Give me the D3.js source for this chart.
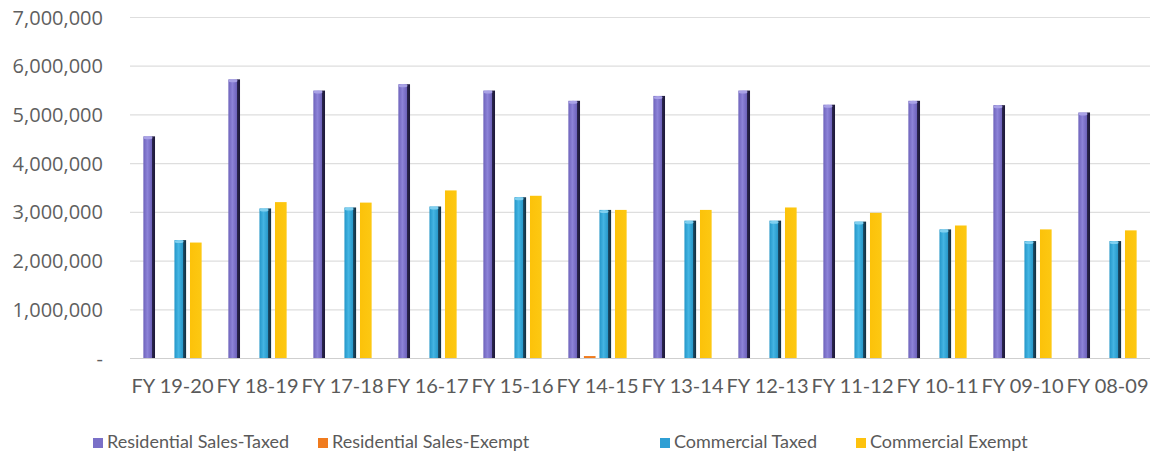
<!DOCTYPE html>
<html>
<head>
<meta charset="utf-8">
<script src="https://cdn.jsdelivr.net/npm/d3@7"></script>
<style>
  html, body { margin: 0; padding: 0; background: #fff; }
  svg { display: block; }
  .axis-y text { font-family: 'Open Sans', sans-serif; font-size: 20px; fill: #5f5f5f; }
  .axis-x text { font-family: Lato, sans-serif; font-size: 20px; fill: #5a5a5a; }
  .legend text { font-family: Lato, sans-serif; font-size: 18px; fill: #5a5a5a; }
</style>
</head>
<body>
<svg id="chart" width="1157" height="453"></svg>
<script>
const categories = ['FY 19-20', 'FY 18-19', 'FY 17-18', 'FY 16-17', 'FY 15-16', 'FY 14-15',
  'FY 13-14', 'FY 12-13', 'FY 11-12', 'FY 10-11', 'FY 09-10', 'FY 08-09']
const residentialTaxed = [4550000, 5720000, 5490000, 5620000, 5490000, 5280000,
  5380000, 5490000, 5200000, 5280000, 5190000, 5040000]
const residentialExempt = [0, 0, 0, 0, 0, 40000, 0, 0, 0, 0, 0, 0]
const commercialTaxed = [2420000, 3070000, 3090000, 3110000, 3300000, 3040000,
  2820000, 2820000, 2800000, 2640000, 2400000, 2400000]
const commercialExempt = [2370000, 3200000, 3190000, 3440000, 3330000, 3040000,
  3040000, 3090000, 2980000, 2720000, 2640000, 2620000]
const seriesNames = ['Residential Sales-Taxed', 'Residential Sales-Exempt', 'Commercial Taxed', 'Commercial Exempt']
const yTicks = [0, 1000000, 2000000, 3000000, 4000000, 5000000, 6000000, 7000000]

const seriesValues = [residentialTaxed, residentialExempt, commercialTaxed, commercialExempt]
const series = seriesNames.map((name, i) => ({key: 's' + i, name: name, values: seriesValues[i]}))

const svg = d3.select('#chart')
const plot = {left: 130, right: 1150, top: 17, bottom: 358}

// bar fills, 3d-ish cylinder look via horizontal gradients
const fills = {
  s0: [['0%', '#6e63bb'], ['35%', '#8d83d8'], ['70%', '#7065bd'], ['74%', '#2b2550'], ['100%', '#1c1836']],
  s1: [['0%', '#f07b1e'], ['100%', '#f07b1e']],
  s2: [['0%', '#2496c8'], ['35%', '#44b5e3'], ['70%', '#2a9bcc'], ['74%', '#1a4f6c'], ['100%', '#132c3c']],
  s3: [['0%', '#fcc20a'], ['100%', '#fdc812']],
}
const legendColors = {s0: '#7a70c8', s1: '#f07b1e', s2: '#2f9fd4', s3: '#fdc20e'}
const defs = svg.append('defs')
Object.keys(fills).forEach((k) => {
  const g = defs.append('linearGradient').attr('id', 'grad-' + k)
    .attr('x1', '0%').attr('x2', '100%').attr('y1', '0%').attr('y2', '0%')
  fills[k].forEach(([o, c]) => g.append('stop').attr('offset', o).attr('stop-color', c))
})

const x0 = d3.scaleBand().domain(categories).range([plot.left, plot.right])
const x1 = d3.scaleBand().domain(series.map((s) => s.key)).range([0, x0.bandwidth()])
  .paddingInner(0.25).paddingOuter(0.86)
const y = d3.scaleLinear().domain([0, 7000000]).range([plot.bottom, plot.top])

// gridlines
svg.append('g')
  .selectAll('line')
  .data(yTicks)
  .enter()
  .append('line')
  .attr('x1', plot.left)
  .attr('x2', plot.right)
  .attr('y1', (d) => y(d) + 0.5)
  .attr('y2', (d) => y(d) + 0.5)
  .attr('stroke', (d) => d === 0 ? '#cfcfcf' : '#dedede')
  .attr('stroke-width', 1.2)

// y axis labels
const yAxis = svg.append('g')
  .attr('class', 'axis-y')
  .attr('transform', 'translate(103, 0)')
  .call(d3.axisLeft(y).tickValues(yTicks).tickSize(0).tickPadding(0)
    .tickFormat((d) => d === 0 ? '-' : d3.format(',')(d)))
yAxis.select('.domain').remove()
yAxis.selectAll('text').attr('dy', '0.35em')

// bars
const groups = svg.append('g')
  .selectAll('g')
  .data(categories)
  .enter()
  .append('g')
  .attr('transform', (d) => `translate(${x0(d)}, 0)`)

groups.selectAll('rect')
  .data((d, i) => series.map((s) => ({key: s.key, value: s.values[i]})).filter((b) => b.value > 0))
  .enter()
  .append('rect')
  .attr('x', (d) => x1(d.key))
  .attr('y', (d) => y(d.value))
  .attr('width', x1.bandwidth())
  .attr('height', (d) => y(0) - y(d.value))
  .attr('fill', (d) => `url(#grad-${d.key})`)

// small caps on top of the cylinder bars
groups.selectAll('ellipse')
  .data((d, i) => series.filter((s) => s.key === 's0' || s.key === 's2')
    .map((s) => ({key: s.key, value: s.values[i]})))
  .enter()
  .append('ellipse')
  .attr('cx', (d) => x1(d.key) + x1.bandwidth() * 0.4)
  .attr('cy', (d) => y(d.value) + 1.5)
  .attr('rx', x1.bandwidth() * 0.38)
  .attr('ry', 1.5)
  .attr('fill', (d) => d.key === 's0' ? '#a9a2e6' : '#7fd0f0')

// x axis labels
const xAxis = svg.append('g')
  .attr('class', 'axis-x')
  .attr('transform', `translate(0, ${plot.bottom})`)
  .call(d3.axisBottom(x0).tickSize(0).tickPadding(0))
xAxis.select('.domain').remove()
xAxis.selectAll('text').attr('dy', '35px')

// legend
const legendX = [93, 318, 660, 856]
const legend = svg.append('g')
  .attr('class', 'legend')
  .selectAll('g')
  .data(series)
  .enter()
  .append('g')
  .attr('transform', (d, i) => `translate(${legendX[i]}, 438)`)

legend.append('rect')
  .attr('width', 10)
  .attr('height', 10)
  .attr('fill', (d) => legendColors[d.key])

legend.append('text')
  .attr('x', 14)
  .attr('y', 10)
  .text((d) => d.name)
</script>
</body>
</html>
